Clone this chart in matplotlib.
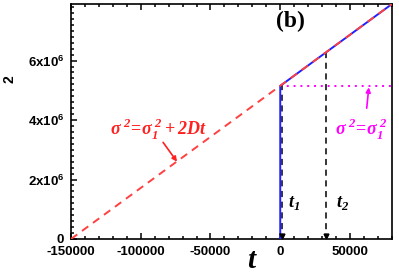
import matplotlib

matplotlib.use("Agg")

import matplotlib.pyplot as plt
from matplotlib.ticker import MultipleLocator, FixedLocator

plt.rcParams["font.family"] = ["Liberation Sans", "DejaVu Sans"]
plt.rcParams["mathtext.fontset"] = "custom"
plt.rcParams["mathtext.rm"] = "Liberation Sans:bold"
plt.rcParams["mathtext.bf"] = "Liberation Serif:bold"
plt.rcParams["mathtext.bfit"] = "Liberation Serif:italic:bold"

# data
red_t = [-150000, 80000]
red_s = [0.0, 7.9e6]
blue_t = [0, 0, 80000]
blue_s = [0.0, 5.15e6, 7.9e6]
magenta_t = [0, 80000]
magenta_s = [5.15e6, 5.15e6]
t1 = 1500
t2 = 33000
x_ticks = [-150000, -100000, -50000, 0, 50000]
x_labels = ["-150000", "-100000", "-50000", "0", "50000"]
y_ticks = [0, 2e6, 4e6, 6e6]
y_labels = ["0", r"2x10$^{6}$", r"4x10$^{6}$", r"6x10$^{6}$"]

SIG = (r"$\mathbfit{\sigma}^{\;\mathbfit{2}}\!\mathbf{=}\!"
       r"\mathbfit{\sigma}_{\mathbfit{1}}^{\;\mathbfit{2}}")


def on_red(t):
    return red_s[0] + (red_s[1] - red_s[0]) * (t - red_t[0]) / (red_t[1] - red_t[0])


fig = plt.figure(figsize=(3.99, 2.75), dpi=100)
ax = fig.add_axes([0.178, 0.131, 0.804, 0.854])

ax.plot(blue_t, blue_s, color="#2020ff", lw=1.4, zorder=3)
ax.plot(red_t, red_s, color="#ff4040", lw=1.4, ls=(0, (4, 3)), zorder=4)
ax.plot(magenta_t, magenta_s, color="#ff00ff", lw=1.4, ls=(0, (1, 2.5)), zorder=2)

for tv in (t1, t2):
    ax.plot([tv, tv], [on_red(tv), 0.12e6], color="black", lw=1.1,
            ls=(0, (4, 3)), zorder=2)
    ax.plot([tv], [0.1e6], marker="v", color="black", ms=3.5, zorder=5)

ax.set_xlim(-150000, 80000)
ax.set_ylim(0, 7.9e6)

ax.xaxis.set_major_locator(FixedLocator(x_ticks))
ax.set_xticklabels(x_labels)
ax.xaxis.set_minor_locator(MultipleLocator(10000))
ax.yaxis.set_major_locator(FixedLocator(y_ticks))
ax.set_yticklabels(y_labels)
ax.yaxis.set_minor_locator(MultipleLocator(2e5))

ax.tick_params(which="both", direction="in", top=True, right=False,
               labelsize=9.5, width=1.1)
ax.tick_params(which="major", length=4, pad=5)
ax.tick_params(which="minor", length=2)
for lab in ax.get_xticklabels() + ax.get_yticklabels():
    lab.set_fontweight("bold")
for sp in ax.spines.values():
    sp.set_linewidth(1.2)

ax.text(0.64, 0.925, "(b)", transform=ax.transAxes, ha="left", va="center",
        fontsize=17, fontweight="bold", family="Liberation Serif")
ax.text(-87000, 3.7e6, SIG + r"\,\mathbf{+}\,\mathbfit{2Dt}$",
        color="#ff2020", fontsize=13, ha="center", va="center")
ax.annotate("", xy=(-74000, 2.6e6), xytext=(-84000, 3.25e6),
            arrowprops=dict(arrowstyle="-|>", color="#ff2020", lw=1.2,
                            mutation_scale=7, shrinkA=0, shrinkB=0))
ax.text(58500, 3.7e6, SIG + "$",
        color="#ff00ff", fontsize=13, ha="center", va="center")
ax.annotate("", xy=(63500, 5.1e6), xytext=(62000, 4.4e6),
            arrowprops=dict(arrowstyle="-|>", color="#ff00ff", lw=1.2,
                            mutation_scale=7, shrinkA=0, shrinkB=0))
ax.text(10000, 1.2e6, r"$\mathbfit{t}_{\mathbfit{1}}$", fontsize=13,
        ha="center", va="center")
ax.text(44500, 1.2e6, r"$\mathbfit{t}_{\mathbfit{2}}$", fontsize=13,
        ha="center", va="center")

fig.text(251 / 399, 1 - 260 / 275, "t", fontsize=21, fontweight="bold",
         style="italic", family="Liberation Serif", ha="center", va="center")
fig.text(10 / 399, 1 - 79 / 275, "2", fontsize=10, fontweight="bold",
         rotation=90, ha="center", va="center")

fig.savefig("out.png", dpi=100)
